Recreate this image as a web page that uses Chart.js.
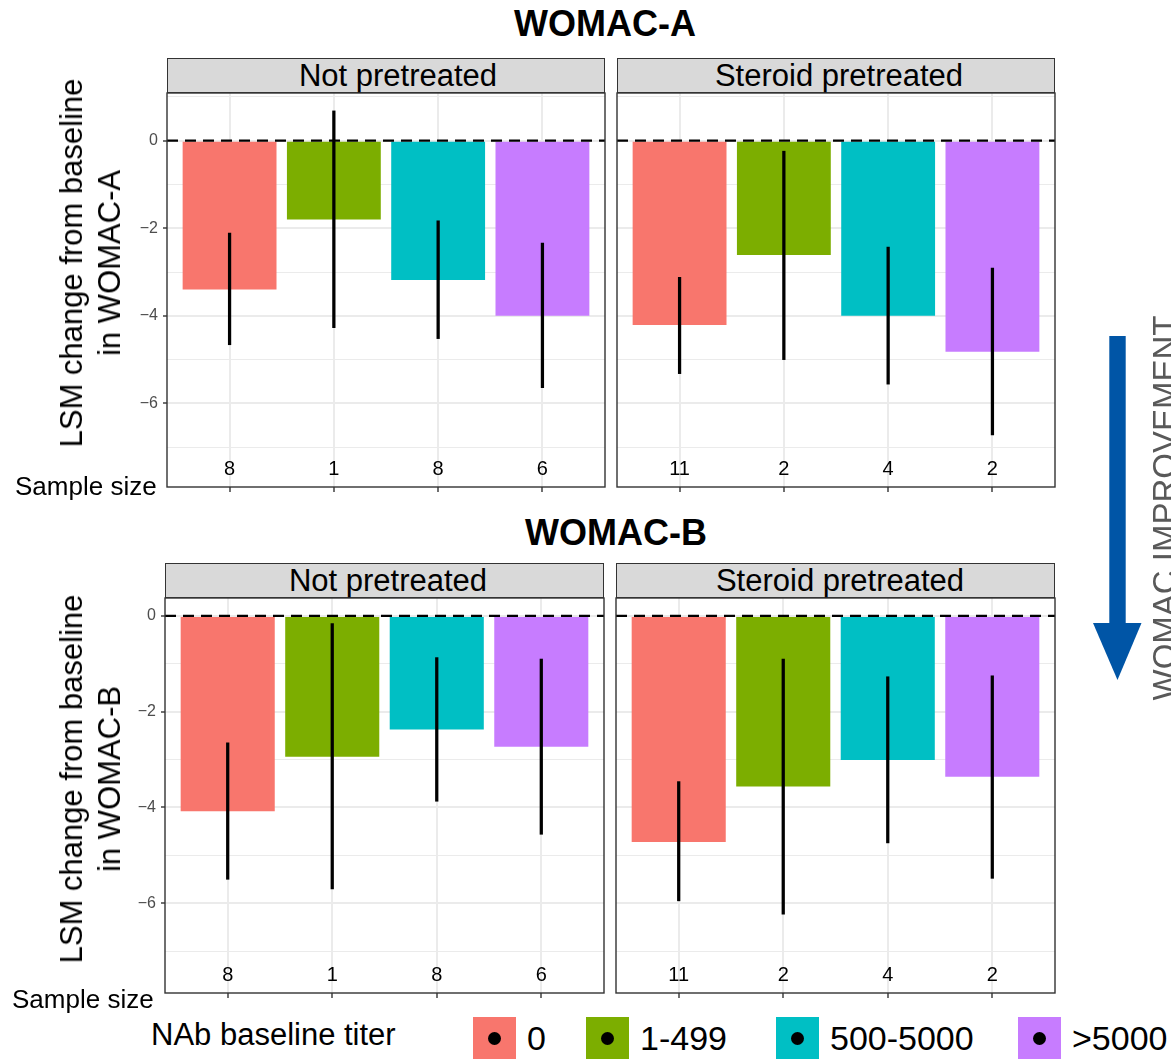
<!DOCTYPE html>
<html>
<head>
<meta charset="utf-8">
<script src="https://cdn.jsdelivr.net/npm/chart.js@4.4.1/dist/chart.umd.min.js"></script>
<style>
  body { margin: 0; background: #fff; }
  #page { position: relative; width: 1171px; height: 1059px; overflow: hidden; background: #fff;
          font-family: "Liberation Sans", Arial, sans-serif; color: #000; }
  .txt { position: absolute; white-space: nowrap; line-height: 1; }
  .strip { position: absolute; box-sizing: border-box; border: 1.4px solid #333; background: #d9d9d9; }
  canvas { position: absolute; }
</style>
</head>
<body>
<div id="page"></div>
<script>
// categories
const titerGroups = ['0', '1-499', '500-5000', '>5000'];
const groupColors = ['#F8766D', '#7CAE00', '#00BFC4', '#C77CFF'];

// WOMAC-A, not pretreated
const aNotLsm = [-3.40, -1.80, -3.18, -4.00];
const aNotLow = [-4.66, -4.27, -4.52, -5.64];
const aNotHigh = [-2.11, 0.68, -1.83, -2.34];
// WOMAC-A, steroid pretreated
const aSterLsm = [-4.21, -2.61, -4.00, -4.82];
const aSterLow = [-5.32, -5.00, -5.56, -6.72];
const aSterHigh = [-3.12, -0.24, -2.43, -2.91];
// WOMAC-B, not pretreated
const bNotLsm = [-4.08, -2.94, -2.37, -2.73];
const bNotLow = [-5.50, -5.70, -3.87, -4.56];
const bNotHigh = [-2.65, -0.16, -0.87, -0.90];
// WOMAC-B, steroid pretreated
const bSterLsm = [-4.72, -3.56, -3.01, -3.36];
const bSterLow = [-5.95, -6.23, -4.74, -5.48];
const bSterHigh = [-3.46, -0.90, -1.27, -1.25];

// sample sizes
const nNot = [8, 1, 8, 6];
const nSter = [11, 2, 4, 2];

// axis ticks
const yMajorTicks = [-6, -4, -2, 0];
const yMinorTicks = [-7, -5, -3, -1, 1];
const sampleLabelY = -7.5;

Chart.defaults.font.family = '"Liberation Sans", Arial, sans-serif';
const page = document.getElementById('page');

function addText(str, x, baseline, size, opts) {
    opts = opts || {};
    const el = document.createElement('div');
    el.className = 'txt';
    el.textContent = str;
    el.style.fontSize = size + 'px';
    el.style.top = (baseline - 0.8465 * size) + 'px';
    el.style.left = x + 'px';
    if (opts.bold) el.style.fontWeight = 'bold';
    if (opts.color) el.style.color = opts.color;
    if (opts.center) el.style.transform = 'translateX(-50%)';
    page.appendChild(el);
    return el;
}

function addRotated(html, cx, cy, size, lineHeight, color) {
    const el = document.createElement('div');
    el.className = 'txt';
    el.innerHTML = html;
    el.style.fontSize = size + 'px';
    el.style.lineHeight = lineHeight + 'px';
    el.style.textAlign = 'center';
    el.style.left = cx + 'px';
    el.style.top = cy + 'px';
    el.style.transform = 'translate(-50%, -50%) rotate(-90deg)';
    if (color) el.style.color = color;
    page.appendChild(el);
}

function addStrip(label, x, y, w, h, textX) {
    const s = document.createElement('div');
    s.className = 'strip';
    s.style.left = x + 'px';
    s.style.top = y + 'px';
    s.style.width = w + 'px';
    s.style.height = h + 'px';
    page.appendChild(s);
    addText(label, textX, y + 28, 31, { center: true });
}

function rowRange(highs) {
    // ggplot style: data range (incl. text row) expanded by 5%
    const top = Math.max(0, ...highs.flat());
    const bottom = sampleLabelY;
    const pad = (top - bottom) * 0.05;
    return [bottom - pad, top + pad];
}

function panelDecor(n) {
    return {
        id: 'panelDecor',
        afterDatasetsDraw(chart) {
            const { ctx, chartArea: a, scales: { x, y } } = chart;
            ctx.save();
            const y0 = y.getPixelForValue(0);
            ctx.strokeStyle = '#000';
            ctx.lineWidth = 2.3;
            ctx.setLineDash([11, 7]);
            ctx.beginPath();
            ctx.moveTo(a.left, y0);
            ctx.lineTo(a.right, y0);
            ctx.stroke();
            ctx.setLineDash([]);

            ctx.fillStyle = '#000';
            ctx.font = '20px "Liberation Sans", Arial, sans-serif';
            ctx.textAlign = 'center';
            ctx.textBaseline = 'middle';
            n.forEach((v, i) => {
                ctx.fillText(String(v), x.getPixelForValue(i + 1), y.getPixelForValue(sampleLabelY));
            });

            ctx.strokeStyle = '#333';
            ctx.lineWidth = 1.4;
            ctx.strokeRect(a.left, a.top, a.right - a.left, a.bottom - a.top);
            ctx.restore();
        }
    };
}

function fmtTick(v) {
    if (v % 2 !== 0) return '';
    return v < 0 ? '\u2212' + Math.abs(v) : String(v);
}

function noPad(s) {
    s.paddingTop = 0;
    s.paddingBottom = 0;
    s.paddingLeft = 0;
    s.paddingRight = 0;
}

function addPanel(p, range) {
    const ax = p.axis ? 44 : 2;
    const W = ax + p.w + 2;
    const H = p.h + 2 + 8;
    const cv = document.createElement('canvas');
    cv.width = W;
    cv.height = H;
    cv.style.left = (p.x - ax) + 'px';
    cv.style.top = (p.y - 2) + 'px';
    cv.style.width = W + 'px';
    cv.style.height = H + 'px';
    page.appendChild(cv);

    const isMajor = c => c.tick && yMajorTicks.includes(c.tick.value);

    new Chart(cv, {
        type: 'bar',
        data: {
            datasets: [
                {
                    label: 'CI',
                    data: p.lsm.map((v, i) => ({ x: i + 1, y: [p.low[i], p.high[i]] })),
                    backgroundColor: '#000',
                    barThickness: 2.6,
                    grouped: false,
                    order: 0
                },
                {
                    label: 'LSM',
                    data: p.lsm.map((v, i) => ({ x: i + 1, y: v })),
                    backgroundColor: groupColors,
                    barPercentage: 0.9,
                    categoryPercentage: 1,
                    grouped: false,
                    order: 1
                }
            ]
        },
        options: {
            responsive: false,
            animation: false,
            devicePixelRatio: 1,
            layout: { padding: { top: 2, right: 2, left: 0, bottom: 0 } },
            plugins: { legend: { display: false }, tooltip: { enabled: false } },
            scales: {
                x: {
                    type: 'linear',
                    offset: false,
                    min: 0.4,
                    max: titerGroups.length + 0.6,
                    afterBuildTicks: s => { s.ticks = titerGroups.map((g, i) => ({ value: i + 1 })); },
                    afterFit: s => { s.height = 8; noPad(s); },
                    ticks: { display: false },
                    grid: { offset: false, color: '#EBEBEB', lineWidth: 2, tickColor: '#333', tickLength: 5, tickWidth: 1.4 },
                    border: { display: false }
                },
                y: {
                    min: range[0],
                    max: range[1],
                    afterBuildTicks: s => {
                        s.ticks = yMajorTicks.concat(yMinorTicks)
                            .filter(v => v >= range[0] && v <= range[1])
                            .sort((a, b) => a - b)
                            .map(v => ({ value: v }));
                    },
                    afterFit: s => { s.width = ax; noPad(s); },
                    ticks: {
                        display: p.axis,
                        autoSkip: false,
                        padding: 5,
                        color: '#4D4D4D',
                        font: { size: 16 },
                        callback: v => fmtTick(v)
                    },
                    grid: {
                        color: '#EBEBEB',
                        lineWidth: c => isMajor(c) ? 2 : 1,
                        drawTicks: p.axis,
                        tickLength: 4,
                        tickWidth: 1.4,
                        tickColor: c => isMajor(c) ? '#333' : 'rgba(0,0,0,0)'
                    },
                    border: { display: false }
                }
            }
        },
        plugins: [panelDecor(p.n)]
    });
}

// ---------- WOMAC-A ----------
addText('WOMAC-A', 605, 36, 36, { bold: true, center: true });
addStrip('Not pretreated', 167, 58, 438, 35, 398);
addStrip('Steroid pretreated', 617, 58, 438, 35, 839);
const rangeA = rowRange([aNotHigh, aSterHigh]);
addPanel({ lsm: aNotLsm, low: aNotLow, high: aNotHigh, n: nNot, x: 167, y: 93, w: 438, h: 394, axis: true }, rangeA);
addPanel({ lsm: aSterLsm, low: aSterLow, high: aSterHigh, n: nSter, x: 617, y: 93, w: 438, h: 394, axis: false }, rangeA);
addRotated('LSM change from baseline<br>in WOMAC-A', 91, 263, 31, 38);
addText('Sample size', 15, 495, 26);

// ---------- WOMAC-B ----------
addText('WOMAC-B', 616, 545, 36, { bold: true, center: true });
addStrip('Not pretreated', 165, 563, 439, 35, 388);
addStrip('Steroid pretreated', 616, 563, 439, 35, 840);
const rangeB = rowRange([bNotHigh.map(v => Math.min(v, 0)), bSterHigh.map(v => Math.min(v, 0))]);
addPanel({ lsm: bNotLsm, low: bNotLow, high: bNotHigh, n: nNot, x: 165, y: 598, w: 439, h: 395, axis: true }, rangeB);
addPanel({ lsm: bSterLsm, low: bSterLow, high: bSterHigh, n: nSter, x: 616, y: 598, w: 439, h: 395, axis: false }, rangeB);
addRotated('LSM change from baseline<br>in WOMAC-B', 91, 779, 31, 38);
addText('Sample size', 12, 1008, 26);

// ---------- legend ----------
addText('NAb baseline titer', 151, 1045, 31);
const keyX = [473, 586, 776, 1018];
titerGroups.forEach((g, i) => {
    const box = document.createElement('div');
    box.style.cssText = 'position:absolute;top:1017px;width:43px;height:43px;left:' + keyX[i] + 'px;background:' + groupColors[i];
    const dot = document.createElement('div');
    dot.style.cssText = 'position:absolute;left:15px;top:15px;width:13px;height:13px;border-radius:50%;background:#000';
    box.appendChild(dot);
    page.appendChild(box);
    addText(g, keyX[i] + 54, 1050, 34);
});

// ---------- improvement arrow ----------
const svgNS = 'http://www.w3.org/2000/svg';
const svg = document.createElementNS(svgNS, 'svg');
svg.setAttribute('width', '1171');
svg.setAttribute('height', '1059');
svg.style.cssText = 'position:absolute;left:0;top:0;pointer-events:none';
svg.innerHTML = '<rect x="1109.3" y="336" width="16.4" height="288" fill="#0055A6"/>' +
    '<polygon points="1093,623 1141.5,623 1117.5,680" fill="#0055A6"/>';
page.appendChild(svg);
addRotated('WOMAC IMPROVEMENT', 1164, 508, 33, 33, '#595959');
</script>
</body>
</html>
